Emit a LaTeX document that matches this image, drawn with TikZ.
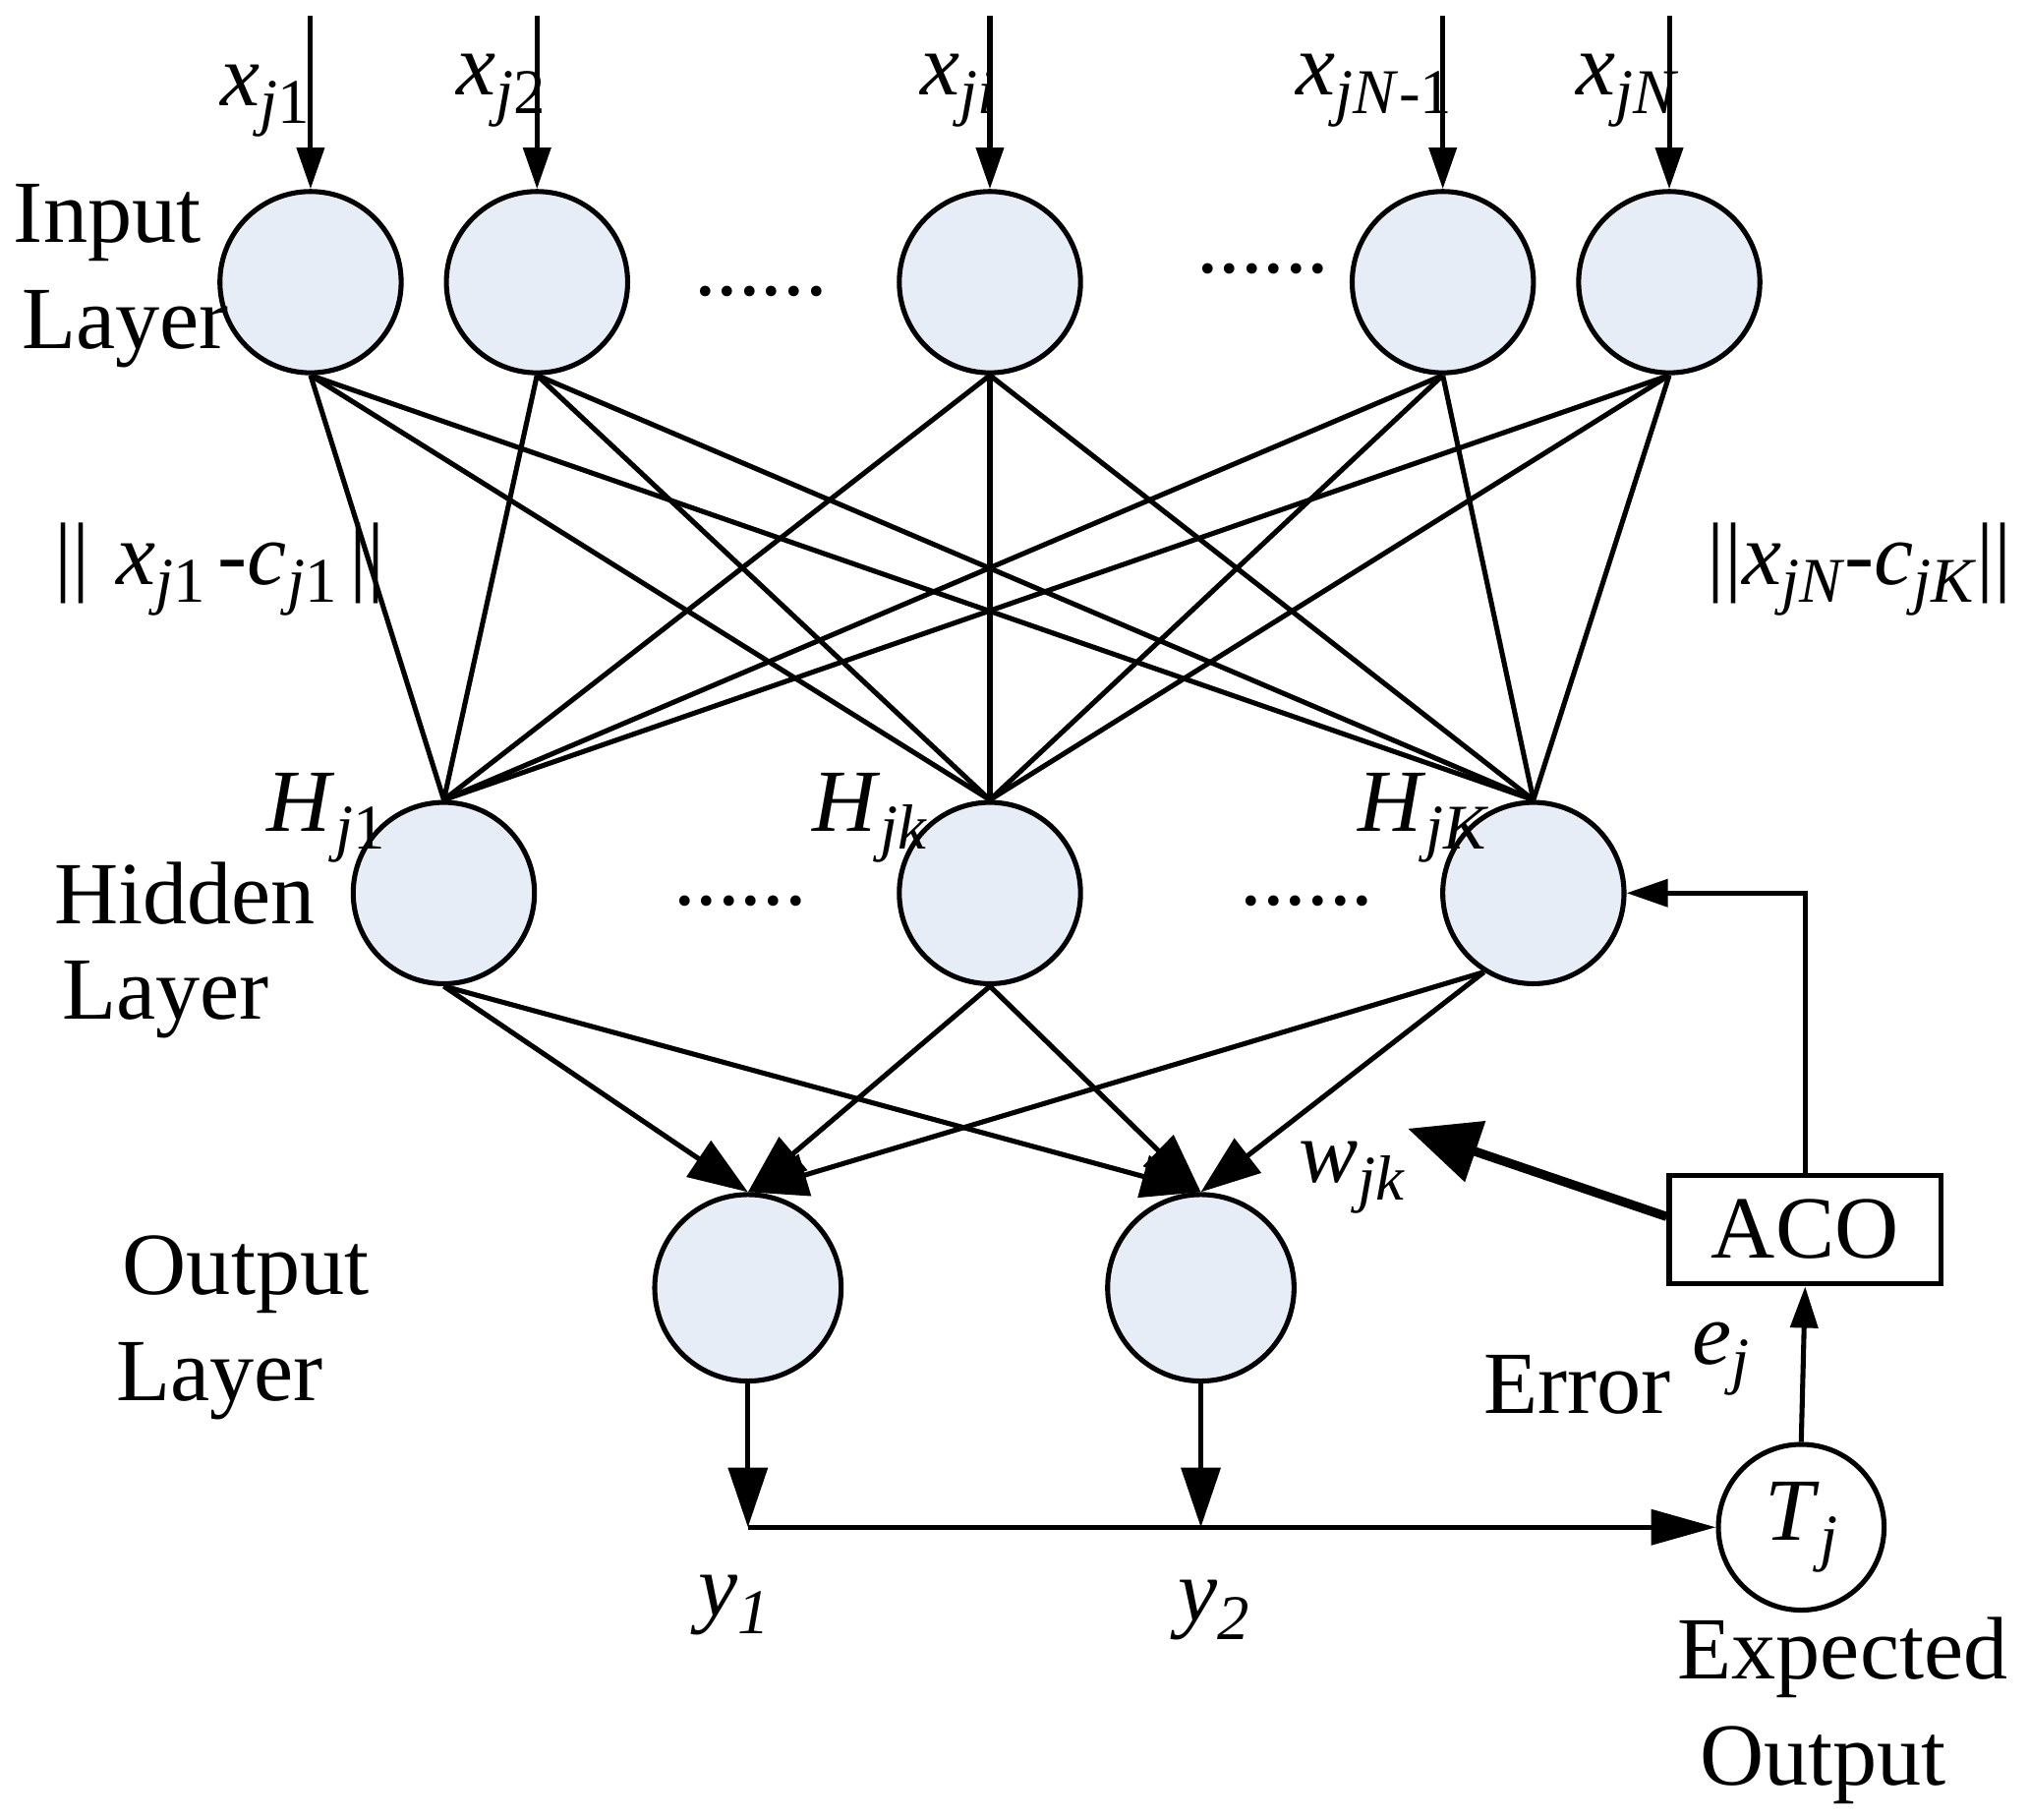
\documentclass[tikz,border=0pt]{standalone}
\usepackage{fontspec}
\setmainfont{Liberation Serif}
\usetikzlibrary{arrows.meta,positioning}

\definecolor{cellfill}{RGB}{230,237,247}
\newcommand{\lowsub}[1]{\raisebox{-0.45ex}{\fontsize{14}{16}\selectfont #1}}

\begin{document}
\begin{tikzpicture}[x=0.01cm, y=-0.01cm, line width=1.1pt,
  font=\fontsize{19.5}{23}\selectfont,
  neuron/.style={circle, draw, fill=cellfill, minimum size=1.4cm, inner sep=0pt},
  arr/.style={-{Triangle[length=0.32cm,width=0.21cm]}},
  bigarr/.style={-{Triangle[length=0.46cm,width=0.33cm]}},
  thickarr/.style={line width=2pt, -{Triangle[length=0.55cm,width=0.48cm]}}]
  \useasboundingbox (0,0) rectangle (1568,1406);

  % Input layer
  \node[neuron] (I1) at (240,218) {};
  \node[neuron] (I2) at (415,218) {};
  \node[neuron] (Ii) at (765,218) {};
  \node[neuron] (IN1) at (1115,218) {};
  \node[neuron] (IN) at (1290,218) {};

  % Hidden layer
  \node[neuron] (H1) at (343,690) {};
  \node[neuron] (Hk) at (765,690) {};
  \node[neuron] (HK) at (1185,690) {};

  % Output layer
  \node[neuron, minimum size=1.44cm] (O1) at (578,995) {};
  \node[neuron, minimum size=1.44cm] (O2) at (928,995) {};

  % Expected output and ACO
  \node[circle, draw, minimum size=1.28cm, inner sep=0pt] (Tj) at (1392,1180) {\textit{T}\lowsub{\textit{j}}};
  \node[draw, minimum width=2.1cm, minimum height=0.84cm] (ACO) at (1395,950) {ACO};

  % Input labels
  \node (xj1) at (205,78) {\textit{x}\lowsub{\textit{j}1}};
  \node (xj2) at (387,70) {\textit{x}\lowsub{\textit{j}2}};
  \node (xji) at (740,70) {\textit{x}\lowsub{\textit{ji}}};
  \node (xjN1) at (1062,70) {\textit{x}\lowsub{\textit{jN}-1}};
  \node (xjN) at (1258,70) {\textit{x}\lowsub{\textit{jN}}};

  % Layer names
  \node (inT) at (83,172) {Input};
  \node (inB) at (97,254) {Layer};
  \node (hidT) at (143,690) {Hidden};
  \node (hidB) at (128,772) {Layer};
  \node (outT) at (190,985) {Output};
  \node (outB) at (170,1067) {Layer};
  \node (expT) at (1424,1281) {Expected};
  \node (expB) at (1409,1364) {Output};
  \node (err) at (1219,1070) {Error};

  % Dots
  \node[anchor=base] (dotsA) at (588,228) {......};
  \node[anchor=base] (dotsB) at (976,211) {......};
  \node[anchor=base] (dotsC) at (572,699) {......};
  \node[anchor=base] (dotsD) at (1010,699) {......};

  % Other labels
  \node (dist1) at (170,440) {||\hspace{0.2cm}\textit{x}\lowsub{\textit{j}1}\hspace{0.1cm}-\textit{c}\lowsub{\textit{j}1}\hspace{0.1cm}||};
  \node (distK) at (1437,440) {||\textit{x}\lowsub{\textit{jN}}-\textit{c}\lowsub{\textit{jK}}||};
  \node (lH1) at (252,632) {\textit{H}\lowsub{\textit{j}1}};
  \node (lHk) at (672,632) {\textit{H}\lowsub{\textit{jk}}};
  \node (lHK) at (1100,632) {\textit{H}\lowsub{\textit{jK}}};
  \node (ly1) at (567,1240) {\textit{y}\lowsub{\textit{1}}};
  \node (ly2) at (938,1244) {\textit{y}\lowsub{\textit{2}}};
  \node (lej) at (1330,1050) {\textit{e}\lowsub{\textit{j}}};
  \node (lwjk) at (1045,910) {\textit{w}\lowsub{\textit{jk}}};

  % Free ends
  \coordinate (t1) at (240,12);
  \coordinate (t2) at (415,12);
  \coordinate (ti) at (765,12);
  \coordinate (tN1) at (1115,12);
  \coordinate (tN) at (1290,12);
  \coordinate (y1) at (578,1180);
  \coordinate (y2) at (928,1180);
  \coordinate (wtip) at (1088,872);

  % Inputs
  \draw[arr] (t1) -- (I1.north);
  \draw[arr] (t2) -- (I2.north);
  \draw[arr] (ti) -- (Ii.north);
  \draw[arr] (tN1) -- (IN1.north);
  \draw[arr] (tN) -- (IN.north);

  % Input to hidden
  \draw (I1.south) -- (H1.north);
  \draw (I1.south) -- (Hk.north);
  \draw (I1.south) -- (HK.north);
  \draw (I2.south) -- (H1.north);
  \draw (I2.south) -- (Hk.north);
  \draw (I2.south) -- (HK.north);
  \draw (Ii.south) -- (H1.north);
  \draw (Ii.south) -- (Hk.north);
  \draw (Ii.south) -- (HK.north);
  \draw (IN1.south) -- (H1.north);
  \draw (IN1.south) -- (Hk.north);
  \draw (IN1.south) -- (HK.north);
  \draw (IN.south) -- (H1.north);
  \draw (IN.south) -- (Hk.north);
  \draw (IN.south) -- (HK.north);

  % Hidden to output
  \draw[bigarr] (H1.south) -- (O1.north);
  \draw[bigarr] (H1.south) -- (O2.north);
  \draw[bigarr] (Hk.south) -- (O1.north);
  \draw[bigarr] (Hk.south) -- (O2.north);
  \draw[bigarr] (HK.-122) -- (O1.north);
  \draw[bigarr] (HK.-122) -- (O2.north);

  % Outputs and error feedback
  \draw[-{Triangle[length=0.46cm,width=0.3cm]}] (O1.south) -- (y1);
  \draw[-{Triangle[length=0.46cm,width=0.3cm]}] (O2.south) -- (y2);
  \draw[-{Triangle[length=0.5cm,width=0.27cm]}] (y1) -- (Tj.west);
  \draw[arr] (Tj.north) -- (ACO.south);
  \draw[arr] (ACO.north) |- (HK.east);
  \draw[thickarr] ([yshift=0.1cm]ACO.west) -- (wtip);
\end{tikzpicture}
\end{document}
